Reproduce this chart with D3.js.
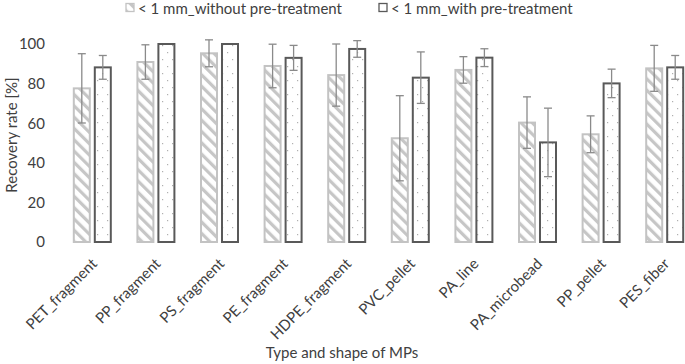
<!DOCTYPE html>
<html>
<head>
<meta charset="utf-8">
<script src="https://cdn.jsdelivr.net/npm/d3@7/dist/d3.min.js"></script>
<style>
html,body{margin:0;padding:0;background:#fff;}
text{font-family:"Lato","Open Sans",sans-serif;fill:#404040;}
</style>
</head>
<body>
<svg id="chart" width="685" height="364"></svg>
<script>
const categories = ["PET_fragment","PP_fragment","PS_fragment","PE_fragment","HDPE_fragment","PVC_pellet","PA_line","PA_microbead","PP_pellet","PES_fiber"];
const seriesNames = ["< 1 mm_without pre-treatment","< 1 mm_with pre-treatment"];
const withoutValues = [77.6, 90.9, 95.3, 88.9, 84.3, 52.4, 86.9, 60.3, 54.4, 87.7];
const withoutErrors = [17.5, 8.7, 6.8, 11.0, 15.7, 21.5, 6.7, 13.0, 9.3, 11.6];
const withValues = [88.2, 100, 100, 93.0, 97.5, 83.0, 93.1, 50.3, 80.1, 88.2];
const withErrors = [6.0, 0, 0, 6.3, 4.2, 13.0, 4.5, 17.3, 7.2, 6.0];
const yTicks = [0, 20, 40, 60, 80, 100];

const svg = d3.select("#chart");
const defs = svg.append("defs");

const hatch = defs.append("pattern").attr("id","hatch").attr("patternUnits","userSpaceOnUse")
  .attr("width",8).attr("height",8).attr("patternTransform","rotate(-45)");
hatch.append("rect").attr("width",8).attr("height",8).attr("fill","#fff");
hatch.append("rect").attr("x",0).attr("y",0).attr("width",3.2).attr("height",8).attr("fill","#c6c6c6");

const dots = defs.append("pattern").attr("id","dots").attr("patternUnits","userSpaceOnUse")
  .attr("width",10).attr("height",14);
dots.append("rect").attr("width",10).attr("height",14).attr("fill","#fff");
dots.append("rect").attr("x",2).attr("y",3).attr("width",1.2).attr("height",1.2).attr("fill","#b0b0b0");
dots.append("rect").attr("x",7).attr("y",10).attr("width",1.2).attr("height",1.2).attr("fill","#b0b0b0");

const x0 = d3.scaleBand().domain(categories).range([60.5, 696.5]);
const x1 = d3.scaleBand().domain([0,1]).range([-18.5, 18.5]).paddingInner(0.238);
const y = d3.scaleLinear().domain([0,100]).range([242, 44]);

const series = [
  {vals: withoutValues, errs: withoutErrors, fill:"url(#hatch)", stroke:"#c3c3c3"},
  {vals: withValues, errs: withErrors, fill:"url(#dots)", stroke:"#595959"}
];

series.forEach((s, si) => {
  const g = svg.append("g");
  categories.forEach((c, i) => {
    const cx = x0(c) + x0.bandwidth()/2;
    const bx = cx + x1(si);
    g.append("rect")
      .attr("x", bx).attr("y", y(s.vals[i]))
      .attr("width", x1.bandwidth()).attr("height", y(0) - y(s.vals[i]))
      .attr("fill", s.fill).attr("stroke", s.stroke).attr("stroke-width", 2);
  });
});

// error bars
series.forEach((s, si) => {
  const g = svg.append("g").attr("stroke","#8a8a8a").attr("stroke-width",1.3);
  categories.forEach((c, i) => {
    if (!s.errs[i]) return;
    const cx = x0(c) + x0.bandwidth()/2 + x1(si) + x1.bandwidth()/2;
    const hi = y(s.vals[i] + s.errs[i]), lo = y(s.vals[i] - s.errs[i]);
    g.append("line").attr("x1",cx).attr("x2",cx).attr("y1",hi).attr("y2",lo);
    g.append("line").attr("x1",cx-4).attr("x2",cx+4).attr("y1",hi).attr("y2",hi);
    g.append("line").attr("x1",cx-4).attr("x2",cx+4).attr("y1",lo).attr("y2",lo);
  });
});

// y axis
const yAxis = svg.append("g").attr("transform","translate(45,0)")
  .call(d3.axisLeft(y).tickValues(yTicks).tickSize(0).tickPadding(0));
yAxis.select(".domain").remove();
yAxis.selectAll("text").style("font-size","15px").style("font-family","Lato, sans-serif").attr("fill","#404040");

// x axis labels (rotated 45deg)
const xl = svg.append("g").attr("class","x-labels");
categories.forEach(c => {
  const cx = x0(c) + x0.bandwidth()/2 + 2;
  xl.append("text")
    .attr("transform", `translate(${cx},261) rotate(-45)`)
    .attr("text-anchor","end").attr("dy","0.35em")
    .style("font-size","15px").text(c);
});

// titles
svg.append("text").attr("transform","translate(12,135) rotate(-90)")
  .attr("text-anchor","middle").attr("dy","0.35em").style("font-size","15px").text("Recovery rate [%]");
svg.append("text").attr("x",342).attr("y",353)
  .attr("text-anchor","middle").attr("dy","0.35em").style("font-size","15px").text("Type and shape of MPs");

// legend
const legend = svg.append("g");
const legItems = [{x:125, fill:"url(#hatch)", stroke:"#c3c3c3"},{x:378, fill:"#fff", stroke:"#595959"}];
legItems.forEach((l, i) => {
  legend.append("rect").attr("x", l.x + 1).attr("y", 3.5).attr("width", 8).attr("height", 8)
    .attr("fill", l.fill).attr("stroke", l.stroke).attr("stroke-width", 1.3);
  legend.append("text").attr("x", l.x + 13).attr("y", 8.5).attr("dy","0.35em")
    .style("font-size","15px").text(seriesNames[i]);
});
</script>
</body>
</html>
